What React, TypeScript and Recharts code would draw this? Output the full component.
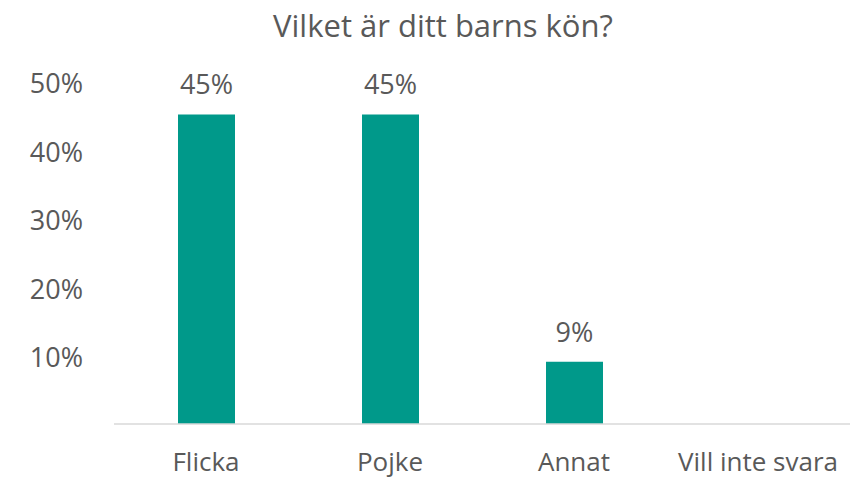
import React from "react";
import { Bar, BarChart, LabelList, XAxis, YAxis } from "recharts";

const categories = ["Flicka", "Pojke", "Annat", "Vill inte svara"];
const shares = [45.2, 45.2, 9.1, 0];
const yTicks = [10, 20, 30, 40, 50];

const data = categories.map((name, i) => ({ name, value: shares[i] }));

const FONT = "'Open Sans', sans-serif";
const TEXT = "#595959";

const App = () => {
  return (
    <div style={{ position: "absolute", left: 0, top: 0, width: 854, height: 481, background: "#fff" }}>
      <svg width={854} height={60} style={{ position: "absolute", left: 0, top: 0 }}>
        <text x={443} y={37} textAnchor="middle" fontFamily={FONT} fontSize={31} fill={TEXT}>
          Vilket är ditt barns kön?
        </text>
      </svg>
      <BarChart
        width={854}
        height={481}
        data={data}
        margin={{ top: 81.5, right: 4, bottom: 0, left: 0 }}
      >
        <XAxis
          dataKey="name"
          axisLine={{ stroke: "#d9d9d9", strokeWidth: 1.5 }}
          tickLine={false}
          tickSize={0}
          tickMargin={29}
          height={57}
          interval={0}
          tick={{ fontSize: 26, fill: TEXT, fontFamily: FONT }}
        />
        <YAxis
          domain={[0, 50]}
          ticks={yTicks}
          width={114}
          axisLine={false}
          tickLine={false}
          tickSize={0}
          tickMargin={31}
          tickFormatter={(v) => `${v}%`}
          tick={{ fontSize: 27, fill: TEXT, fontFamily: FONT, dy: 2 }}
        />
        <Bar dataKey="value" fill="#00998a" barSize={57} isAnimationActive={false}>
          <LabelList
            dataKey="value"
            position="top"
            offset={20}
            formatter={(v: any) => (v ? `${Math.round(v)}%` : "")}
            style={{ fontSize: 27, fill: TEXT, fontFamily: FONT }}
          />
        </Bar>
      </BarChart>
    </div>
  );
};

export default App;
